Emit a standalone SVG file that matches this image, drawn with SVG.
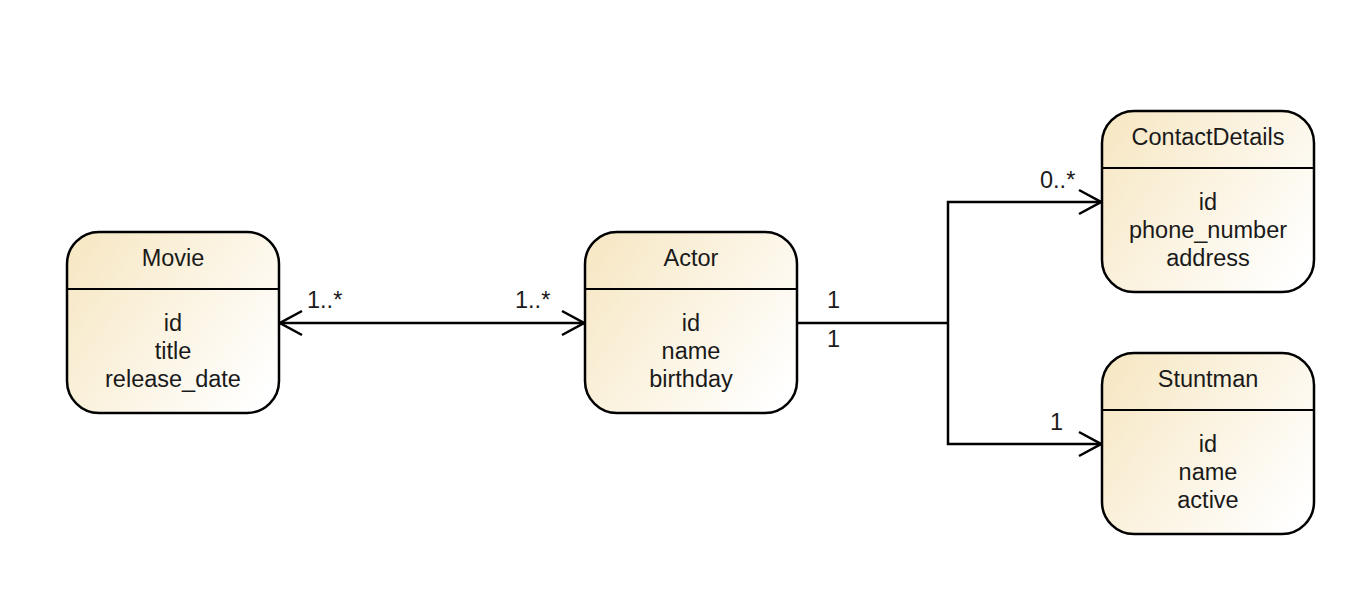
<svg xmlns="http://www.w3.org/2000/svg" width="1370" height="610" viewBox="0 0 1370 610">
<defs>
<linearGradient id="g" x1="0" y1="0.2" x2="1" y2="0.8">
<stop offset="0" stop-color="#f7e8c6"/>
<stop offset="0.45" stop-color="#fbf3e0"/>
<stop offset="1" stop-color="#ffffff"/>
</linearGradient>
<marker id="arr" viewBox="0 0 24 28" refX="23" refY="14" markerWidth="24" markerHeight="28" markerUnits="userSpaceOnUse" orient="auto-start-reverse">
<path d="M1,2 L23,14 L1,26" fill="none" stroke="#000" stroke-width="2.5"/>
</marker>
</defs>
<style>
.box{fill:url(#g);stroke:#000;stroke-width:2.5}
.div{stroke:#000;stroke-width:2}
text{font-family:"Liberation Sans",Arial,sans-serif;font-size:23.5px;fill:#1a1a1a}
.c{text-anchor:middle}
.ln{fill:none;stroke:#000;stroke-width:2.5}
</style>
<rect width="1370" height="610" fill="#fff"/>
<g id="connectors">
<path class="ln" d="M280,323 H584" marker-start="url(#arr)" marker-end="url(#arr)"/>
<path class="ln" d="M797,323 H948"/>
<path class="ln" d="M948,323 V202 H1101" marker-end="url(#arr)"/>
<path class="ln" d="M948,323 V444 H1101" marker-end="url(#arr)"/>
<text x="307" y="308">1..*</text>
<text x="515" y="308">1..*</text>
<text x="827" y="308">1</text>
<text x="827" y="347">1</text>
<text x="1040" y="188">0..*</text>
<text x="1050" y="430">1</text>
</g>
<g id="movie">
<rect class="box" x="67" y="232" width="212" height="181" rx="32"/>
<line class="div" x1="67" y1="289" x2="279" y2="289"/>
<text class="c" x="173" y="266">Movie</text>
<text class="c" x="173" y="331">id</text>
<text class="c" x="173" y="359">title</text>
<text class="c" x="173" y="387">release_date</text>
</g>
<g id="actor">
<rect class="box" x="585" y="232" width="212" height="181" rx="32"/>
<line class="div" x1="585" y1="289" x2="797" y2="289"/>
<text class="c" x="691" y="266">Actor</text>
<text class="c" x="691" y="331">id</text>
<text class="c" x="691" y="359">name</text>
<text class="c" x="691" y="387">birthday</text>
</g>
<g id="contactdetails">
<rect class="box" x="1102" y="111" width="212" height="181" rx="32"/>
<line class="div" x1="1102" y1="168" x2="1314" y2="168"/>
<text class="c" x="1208" y="145">ContactDetails</text>
<text class="c" x="1208" y="210">id</text>
<text class="c" x="1208" y="238">phone_number</text>
<text class="c" x="1208" y="266">address</text>
</g>
<g id="stuntman">
<rect class="box" x="1102" y="353" width="212" height="181" rx="32"/>
<line class="div" x1="1102" y1="410" x2="1314" y2="410"/>
<text class="c" x="1208" y="387">Stuntman</text>
<text class="c" x="1208" y="452">id</text>
<text class="c" x="1208" y="480">name</text>
<text class="c" x="1208" y="508">active</text>
</g>
</svg>
